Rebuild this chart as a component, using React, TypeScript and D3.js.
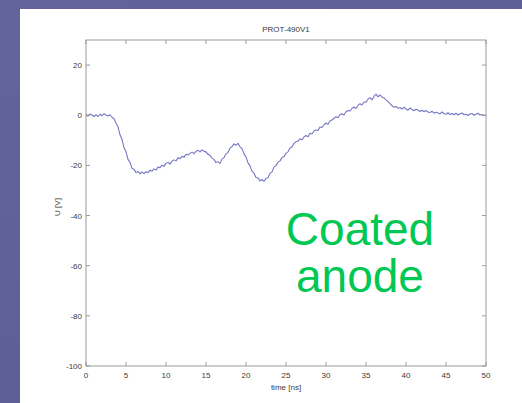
import React from "react";
import * as d3 from "d3";

const TITLE = "PROT-490V1";
const X_LABEL = "time [ns]";
const Y_LABEL = "U [V]";
const X_TICKS = [0, 5, 10, 15, 20, 25, 30, 35, 40, 45, 50];
const Y_TICKS = [-100, -80, -60, -40, -20, 0, 20];
const X_DOMAIN = [0, 50];
const Y_DOMAIN = [-100, 30];
const SAMPLE_STEP_NS = 0.25;
const VOLTAGES = [
  0.3, -0.4, 0.5, 0.1,
  -0.5, 0.2, -0.6, 0.4,
  -0.2, 0.6, 0.1, -0.3,
  0.2, -0.8, -1.4, -3.2,
  -4.6, -7.8, -9.6, -12.9,
  -14.6, -17.6, -18.8, -21.2,
  -21.5, -22.9, -22.4, -23.4,
  -22.6, -23.3, -22.5, -22.9,
  -21.9, -22.3, -21.4, -21.9,
  -20.7, -20.9, -19.9, -20.4,
  -19.2, -18.8, -19.5, -18.3,
  -17.8, -18.2, -17.0, -17.3,
  -16.4, -16.8, -15.6, -15.9,
  -15.2, -14.7, -15.3, -14.4,
  -14.0, -14.6, -13.8, -14.4,
  -14.6, -15.6, -16.0, -17.1,
  -17.6, -18.9, -18.5, -19.2,
  -17.5, -16.9, -15.4, -14.9,
  -13.2, -12.5, -11.4, -12.0,
  -11.2, -12.6, -13.3, -15.4,
  -16.6, -19.0, -20.2, -22.3,
  -23.1, -24.8, -25.0, -26.2,
  -25.6, -26.4, -25.1, -24.9,
  -23.2, -22.6, -20.7, -20.1,
  -18.7, -18.2, -16.9, -16.5,
  -15.1, -14.6, -13.1, -12.7,
  -11.2, -10.6, -10.3, -9.4,
  -9.8, -8.7, -8.1, -8.6,
  -7.2, -7.5, -6.3, -5.9,
  -6.1, -4.7, -4.9, -3.8,
  -3.1, -3.6, -2.2, -1.9,
  -1.2, -0.6, -1.0, 0.3,
  0.6, 0.1, 1.4, 1.9,
  1.7, 2.8, 3.3, 2.7,
  3.9, 4.6, 4.1, 5.3,
  5.2, 6.4, 7.0, 6.1,
  7.6, 8.4, 7.3, 8.1,
  7.2, 6.9, 6.1, 5.5,
  4.6, 3.8, 3.2, 3.5,
  2.8, 3.1, 2.4, 3.2,
  2.5, 2.0, 2.9, 2.3,
  1.8, 2.4, 2.1, 1.5,
  2.0, 1.4, 1.9, 1.3,
  1.1, 1.6, 0.8, 1.2,
  0.9, 0.5, 1.3, 0.6,
  0.4, 1.0, 0.3, 0.7,
  0.2, 0.8, 0.1, 0.6,
  0.9, 0.2, 0.4, -0.1,
  0.5, 0.7, 0.0, 0.4,
  0.8, 0.1, 0.3, -0.2,
  0.1,
];
const ANNOTATION_LINES = ["Coated", "anode"];

const W = 522;
const H = 403;
const PLOT = { left: 86, right: 486, top: 40, bottom: 366 };

export default function App() {
  const x = d3.scaleLinear().domain(X_DOMAIN).range([PLOT.left, PLOT.right]);
  const y = d3.scaleLinear().domain(Y_DOMAIN).range([PLOT.bottom, PLOT.top]);
  const line = d3
    .line<number>()
    .x((_, i) => x(i * SAMPLE_STEP_NS))
    .y((d) => y(d));
  const axisColor = "#9a9a9a";
  const textColor = "#3a3a3a";
  const tickLen = 4;
  const font = "Liberation Sans, Arial, sans-serif";

  return (
    <div style={{ position: "fixed", left: 0, top: 0, width: W, height: H, margin: 0 }}>
      <svg width={W} height={H} style={{ display: "block" }}>
        <defs>
          <linearGradient id="bg" x1="0" y1="0" x2="1" y2="1">
            <stop offset="0" stopColor="#64649c" />
            <stop offset="1" stopColor="#5a5a92" />
          </linearGradient>
        </defs>
        <rect x={0} y={0} width={W} height={H} fill="url(#bg)" />
        <rect x={20} y={9} width={W - 20} height={H - 9} fill="#ffffff" />

        <text x={(PLOT.left + PLOT.right) / 2} y={32} textAnchor="middle" fontFamily={font} fontSize={8} fill={textColor}>
          {TITLE}
        </text>

        <path d={line(VOLTAGES) || ""} fill="none" stroke="#7676c2" strokeWidth={1.1} strokeLinejoin="round" />

        <rect
          x={PLOT.left}
          y={PLOT.top}
          width={PLOT.right - PLOT.left}
          height={PLOT.bottom - PLOT.top}
          fill="none"
          stroke={axisColor}
          strokeWidth={1}
        />

        {X_TICKS.map((t) => (
          <g key={"x" + t}>
            <line x1={x(t)} x2={x(t)} y1={PLOT.bottom} y2={PLOT.bottom - tickLen} stroke={axisColor} />
            <line x1={x(t)} x2={x(t)} y1={PLOT.top} y2={PLOT.top + tickLen} stroke={axisColor} />
            <text x={x(t)} y={378} textAnchor="middle" fontFamily={font} fontSize={8} fill={textColor}>
              {t}
            </text>
          </g>
        ))}

        {Y_TICKS.map((t) => (
          <g key={"y" + t}>
            <line x1={PLOT.left} x2={PLOT.left + tickLen} y1={y(t)} y2={y(t)} stroke={axisColor} />
            <line x1={PLOT.right} x2={PLOT.right - tickLen} y1={y(t)} y2={y(t)} stroke={axisColor} />
            <text x={PLOT.left - 4} y={y(t) + 3} textAnchor="end" fontFamily={font} fontSize={8} fill={textColor}>
              {t}
            </text>
          </g>
        ))}

        <text x={(PLOT.left + PLOT.right) / 2} y={390} textAnchor="middle" fontFamily={font} fontSize={8} fill={textColor}>
          {X_LABEL}
        </text>
        <text
          transform={`translate(60, ${(PLOT.top + PLOT.bottom) / 2 + 4}) rotate(-90)`}
          textAnchor="middle"
          fontFamily={font}
          fontSize={8}
          fill={textColor}
        >
          {Y_LABEL}
        </text>

        {ANNOTATION_LINES.map((s, i) => (
          <text key={s} x={360} y={245 + i * 47} textAnchor="middle" fontFamily={font} fontSize={46} fill="#00c853">
            {s}
          </text>
        ))}
      </svg>
    </div>
  );
}
